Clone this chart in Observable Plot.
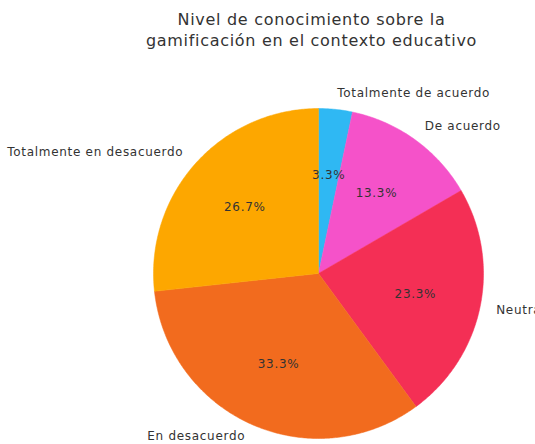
<!DOCTYPE html>
<html><head><meta charset="utf-8">
<script src="https://cdn.jsdelivr.net/npm/d3@7"></script>
<script src="https://cdn.jsdelivr.net/npm/@observablehq/plot@0.6"></script>
<style>
html,body{margin:0;padding:0;background:#fff;overflow:hidden;}
#chart svg{display:block;overflow:hidden;}
#chart svg text{letter-spacing:0.7px;}
</style></head>
<body><div id="chart"></div>
<script>
const titleLines = ["Nivel de conocimiento sobre la", "gamificación en el contexto educativo"];
const categories = ["Totalmente de acuerdo", "De acuerdo", "Neutral", "En desacuerdo", "Totalmente en desacuerdo"];
const values = [3.3, 13.3, 23.3, 33.3, 26.7];
const colors = ["#2fb8f3", "#f552c9", "#f42f55", "#f26b1e", "#fda700"];

const W = 535, H = 444;
const cx = 318, cy = 273, R = 165; // pie center/radius in pixels
const xDomain = [-cx / R, (W - cx) / R];
const yDomain = [-(H - cy) / R, cy / R];

const arcs = d3.pie().sort(null).value(d => d.v)(categories.map((c, i) => ({c, v: values[i]})));
const poly = [];
arcs.forEach(a => {
  poly.push({c: a.data.c, x: 0, y: 0});
  const n = Math.max(4, Math.ceil((a.endAngle - a.startAngle) / 0.01));
  for (let k = 0; k <= n; k++) {
    const t = a.startAngle + (a.endAngle - a.startAngle) * k / n;
    poly.push({c: a.data.c, x: Math.sin(t), y: Math.cos(t)});
  }
  poly.push({c: a.data.c, x: 0, y: 0});
});
const mids = arcs.map(a => {
  const m = (a.startAngle + a.endAngle) / 2;
  return {c: a.data.c, v: a.data.v, sx: Math.sin(m), cy: Math.cos(m)};
});
const outer = mids.map(d => ({...d, x: 1.1 * d.sx, y: 1.1 * d.cy}));
const inner = mids.map(d => ({...d, x: 0.6 * d.sx, y: 0.6 * d.cy}));

const chart = Plot.plot({
  width: W, height: H,
  margin: 0,
  x: {domain: xDomain, axis: null},
  y: {domain: yDomain, axis: null},
  color: {domain: categories, range: colors},
  style: {fontFamily: "DejaVu Sans, sans-serif", background: "#fff"},
  marks: [
    Plot.line(poly, {x: "x", y: "y", z: "c", fill: "c", stroke: "c", strokeWidth: 0.5, curve: "linear"}),
    Plot.text(outer.filter(d => d.x >= 0), {x: "x", y: "y", text: "c", textAnchor: "start", fontSize: 12, fill: "#333"}),
    Plot.text(outer.filter(d => d.x < 0 && d.y < -0.9), {x: "x", y: "y", text: "c", textAnchor: "end", fontSize: 12, fill: "#333", dy: -3}),
    Plot.text(outer.filter(d => d.x < 0 && d.y >= -0.9), {x: "x", y: "y", text: "c", textAnchor: "end", fontSize: 12, fill: "#333"}),
    Plot.text(inner, {x: "x", y: "y", text: d => d3.format(".1f")(d.v) + "%", fontSize: 12, fill: "#333"}),
    Plot.text([titleLines.join("\n")], {x: 0, frameAnchor: "top", dy: 10, dx: -7, text: d => d, fontSize: 16, lineHeight: 1.3, fill: "#333", lineAnchor: "top"})
  ]
});
document.getElementById("chart").appendChild(chart);
</script>
</body></html>
